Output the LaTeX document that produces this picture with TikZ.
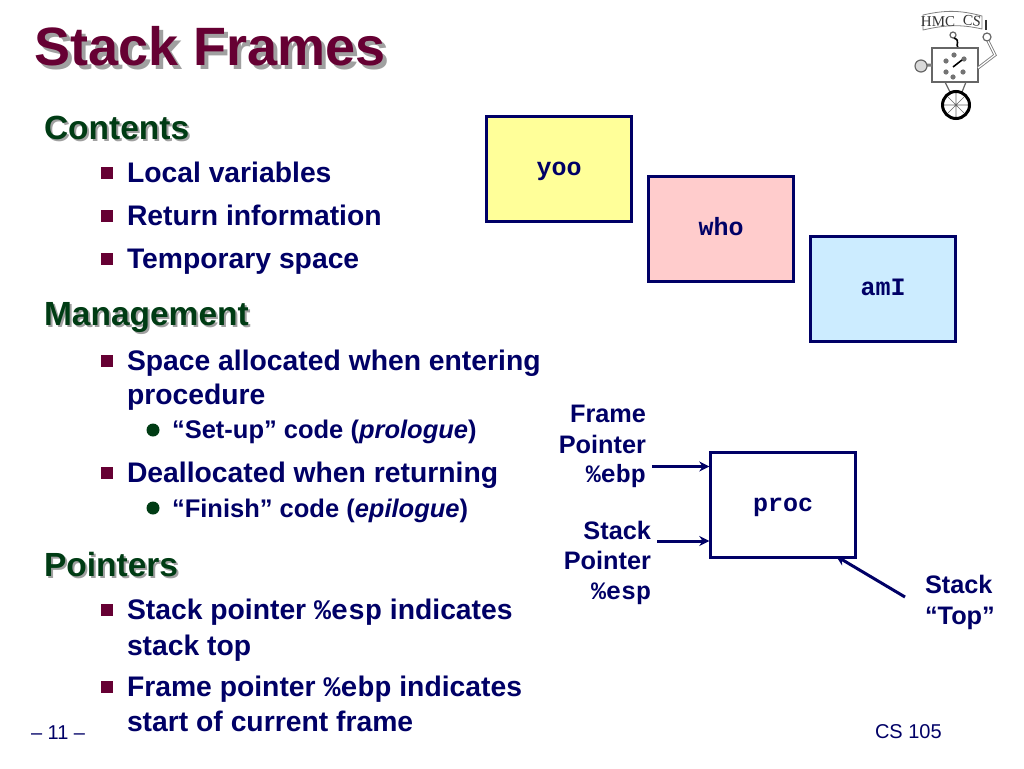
\documentclass[tikz,border=0pt]{standalone}
\usepackage{fontspec}
\setmainfont{Liberation Sans}
\setmonofont{Liberation Mono}
\newfontfamily\logofont{Liberation Serif}
\usepackage{tikz}
\usetikzlibrary{arrows.meta}
\definecolor{wine}{RGB}{102,0,51}
\definecolor{leaf}{RGB}{0,60,20}
\definecolor{ink}{RGB}{0,0,102}
\definecolor{shade}{RGB}{160,160,160}
\definecolor{boxyellow}{RGB}{255,255,153}
\definecolor{boxpink}{RGB}{255,204,204}
\definecolor{boxblue}{RGB}{204,236,255}
\tikzstyle{node_text} = [anchor=base west, inner sep=0pt, outer sep=0pt, font=\fontsize{28.3}{28.3}\selectfont\bfseries, text=ink]
\tikzstyle{node_sub} = [node_text, font=\fontsize{25.5}{25.5}\selectfont\bfseries]
\tikzstyle{node_head} = [node_text, font=\fontsize{33.5}{33.5}\selectfont\bfseries, text=leaf]
\tikzstyle{node_headshade} = [node_head, text=shade]
\tikzstyle{node_title} = [node_text, font=\fontsize{54}{54}\selectfont\bfseries, text=wine]
\tikzstyle{node_label} = [node_text, anchor=base east, font=\fontsize{25.3}{25.3}\selectfont\bfseries]
\tikzstyle{node_code} = [node_label, font=\fontsize{25}{25}\selectfont\ttfamily\bfseries]
\tikzstyle{node_frame} = [draw=ink, line width=2.4pt, minimum width=145pt, minimum height=105pt, inner sep=0pt, text height=12pt, text depth=0pt, text=ink, font=\fontsize{25}{25}\selectfont\ttfamily\bfseries]
\tikzstyle{node_square} = [fill=wine, inner sep=0pt, minimum size=11.5pt]
\tikzstyle{node_dot} = [circle, fill=leaf, inner sep=0pt, minimum size=13pt]
\tikzstyle{edge_arrow} = [draw=ink, line width=3pt, -{Stealth[length=10pt,width=10pt]}]
\tikzstyle{robot} = [draw=black!60, line width=1.2pt]
\tikzstyle{node_logo} = [font=\fontsize{15}{15}\selectfont\logofont, text=black!80, inner sep=0pt]
\begin{document}
\begin{tikzpicture}[x=1pt,y=-1pt]
\useasboundingbox (0,0) rectangle (1024,768);
% title and headings
\node (titleS) at (38,69) [node_title, text=shade] {Stack Frames};
\node (title) at (34.5,65) [node_title] {Stack Frames};
\node (contentsS) at (46,141) [node_headshade] {Contents};
\node (contents) at (44,139) [node_head] {Contents};
\node (managementS) at (46,327) [node_headshade] {Management};
\node (management) at (44,325) [node_head] {Management};
\node (pointersS) at (46,578) [node_headshade] {Pointers};
\node (pointers) at (44,576) [node_head] {Pointers};
% bullets
\node (b1) at (107,173) [node_square] {};
\node (b2) at (107,216) [node_square] {};
\node (b3) at (107,259) [node_square] {};
\node (b4) at (107,361) [node_square] {};
\node (b5) at (107,473) [node_square] {};
\node (b6) at (107,610) [node_square] {};
\node (b7) at (107,687) [node_square] {};
\node (d1) at (153,430) [node_dot] {};
\node (d2) at (153,508) [node_dot] {};
% list
\node (t1) at (127,182.5) [node_text] {Local variables};
\node (t2) at (127,225) [node_text] {Return information};
\node (t3) at (127,268) [node_text] {Temporary space};
\node (t4) at (127,370) [node_text] {Space allocated when entering};
\node (t4b) at (127,404) [node_text] {procedure};
\node (t5) at (172,438) [node_sub] {“Set-up” code (\textit{prologue})};
\node (t6) at (127,482) [node_text] {Deallocated when returning};
\node (t7) at (172,517) [node_sub] {“Finish” code (\textit{epilogue})};
\node (t8) at (127,619) [node_text] {Stack pointer \texttt{\%esp} indicates};
\node (t8b) at (127,655) [node_text] {stack top};
\node (t9) at (127,696) [node_text] {Frame pointer \texttt{\%ebp} indicates};
\node (t9b) at (127,731.5) [node_text] {start of current frame};
% frames
\node (yoo) at (559,169) [node_frame, fill=boxyellow] {yoo};
\node (who) at (721,229) [node_frame, fill=boxpink] {who};
\node (amI) at (883,289) [node_frame, fill=boxblue] {amI};
\node (proc) at (783,505) [node_frame] {proc};
% pointer labels
\node (fp1) at (646,422) [node_label] {Frame};
\node (fp2) at (646,453) [node_label] {Pointer};
\node (fp3) at (646,482) [node_code] {\%ebp};
\node (sp1) at (651,539) [node_label] {Stack};
\node (sp2) at (651,569) [node_label] {Pointer};
\node (sp3) at (651,599) [node_code] {\%esp};
\node (st1) at (925,593) [node_label, anchor=base west] {Stack};
\node (st2) at (925,624) [node_label, anchor=base west] {“Top”};
\coordinate (fpS) at (652,466.5);
\coordinate (spS) at (657,541);
\coordinate (stS) at (905,597);
\coordinate (stE) at (836,556);
\draw[edge_arrow] (fpS) -- (proc.west |- fpS);
\draw[edge_arrow] (spS) -- (proc.west |- spS);
\draw[edge_arrow] (stS) -- (stE);
% footer
\node (page) at (31,739) [node_text, font=\fontsize{20}{20}\selectfont] {– 11 –};
\node (course) at (875,738) [node_text, font=\fontsize{20}{20}\selectfont] {CS 105};
% robot logo
\draw[draw=black!50, line width=.8pt] (923,15) .. controls (945,10) and (960,10) .. (982,16) -- (982,29) .. controls (960,24) and (945,25) .. (923,30) -- cycle;
\node (hmc) at (938,22) [node_logo] {HMC};
\node (cs) at (972,20.5) [node_logo, rotate=-8] {CS};
\draw[black!80, line width=1.4pt] (986,20) -- (986,30);
\draw[robot] (953,35) circle (3pt);
\draw[black, line width=1.6pt] (954,38) .. controls (961,41) and (955,44) .. (958,48);
\draw[robot, fill=white] (932,48) rectangle (978,82);
\draw[black!50, line width=3pt] (927,65) -- (932,65) (978,68) -- (995,55) -- (988,41);
\draw[white, line width=1.2pt] (978,68) -- (995,55) -- (988,41);
\draw[robot, fill=black!15] (921,66) circle (6pt);
\draw[robot, fill=white] (987,37) circle (4pt);
\draw[robot] (945,82) -- (950,92) (966,82) -- (962,92);
\draw[black!60, line width=.6pt] (942,105) -- (970,105) (956,91) -- (956,119) (946,95) -- (966,115) (946,115) -- (966,95);
\draw[black, line width=3pt] (956,105) circle (13.5pt);
\foreach \x/\y in {954/55,964/59,963/72,953/77,946/72,946/61} \fill[black!55] (\x,\y) circle (2.6pt);
\draw[black, line width=1.6pt] (953,67) -- (962,60);
\end{tikzpicture}
\end{document}
